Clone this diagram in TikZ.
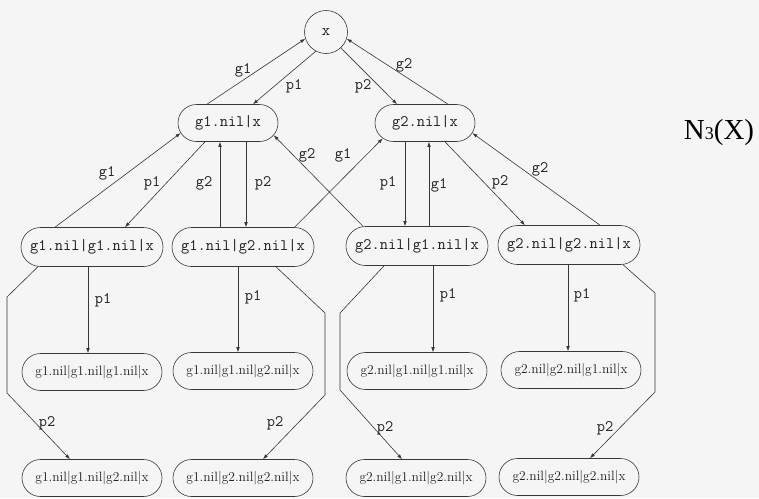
\documentclass[tikz,border=0pt]{standalone}
\usepackage{fontspec}
\newfontfamily\timesfont{Liberation Serif}
\usetikzlibrary{shapes.misc,arrows.meta}
\definecolor{bgcol}{RGB}{245,245,245}
\definecolor{ink}{RGB}{55,55,55}
\definecolor{txt}{RGB}{30,30,30}
\begin{document}
\begin{tikzpicture}[x=1pt,y=-1pt,
  ttfont/.style={font=\fontsize{16}{18}\selectfont\ttfamily},
  state/.style={rounded rectangle, draw=ink, line width=0.6pt, inner sep=0pt, text=txt},
  lvlone/.style={state, ttfont, minimum width=100pt, minimum height=37pt},
  lvltwo/.style={state, ttfont, minimum width=142pt, minimum height=39pt},
  leaf/.style={state, font=\fontsize{13.5}{15}\selectfont, minimum width=140pt, minimum height=37pt},
  root/.style={circle, draw=ink, line width=0.6pt, minimum size=43pt, inner sep=0pt, ttfont, text=txt},
  lbl/.style={ttfont, inner sep=0pt, text=txt},
  link/.style={draw=ink, line width=0.6pt, -{Latex[length=5pt,width=3.6pt]}},
]
\useasboundingbox[fill=bgcol] (0,0) rectangle (759,498);

% states
\node[root] (x) at (326,32) {x};

\node[lvlone] (a1) at (228,123) {g1.nil|x};
\node[lvlone] (a2) at (425,123) {g2.nil|x};

\node[lvltwo] (b11) at (92,247) {g1.nil|g1.nil|x};
\node[lvltwo] (b12) at (243,247) {g1.nil|g2.nil|x};
\node[lvltwo] (b21) at (417,246) {g2.nil|g1.nil|x};
\node[lvltwo] (b22) at (569,245) {g2.nil|g2.nil|x};

\node[leaf] (c111) at (92,372) {g1.nil|g1.nil|g1.nil|x};
\node[leaf] (c112) at (243,371) {g1.nil|g1.nil|g2.nil|x};
\node[leaf] (c211) at (417,371) {g2.nil|g1.nil|g1.nil|x};
\node[leaf] (c221) at (571,370) {g2.nil|g2.nil|g1.nil|x};

\node[leaf] (d112) at (92,478) {g1.nil|g1.nil|g2.nil|x};
\node[leaf] (d122) at (243,478) {g1.nil|g2.nil|g2.nil|x};
\node[leaf] (d212) at (416,478) {g2.nil|g1.nil|g2.nil|x};
\node[leaf] (d222) at (569,477) {g2.nil|g2.nil|g2.nil|x};

% bends of the p2 connectors
\coordinate (k1a) at (7,297);   \coordinate (k1b) at (7,393);
\coordinate (k2a) at (325,313); \coordinate (k2b) at (325,395);
\coordinate (k3a) at (340,313); \coordinate (k3b) at (340,390);
\coordinate (k4a) at (655,293); \coordinate (k4b) at (655,392);

% root <-> first level
\draw[link] ([xshift=-21pt]a1.north) -- (x.198);
\draw[link] (x.242) -- ([xshift=25pt]a1.north);
\draw[link] (x.313) -- ([xshift=-28pt]a2.north);
\draw[link] ([xshift=23pt]a2.north) -- (x.-18);

% first level <-> second level
\draw[link] ([xshift=-37pt]b11.north) -- (a1.192);
\draw[link] ([xshift=-23pt]a1.south) -- ([xshift=33pt]b11.north);
\draw[link] ([xshift=-23pt]b12.north) -- ([xshift=-23pt]b12.north |- a1.south);
\draw[link] ([xshift=18pt]a1.south) -- ([xshift=18pt]a1.south |- b12.north);
\draw[link] (b21.160) -- (a1.-15);
\draw[link] (b12.21) -- (a2.200);
\draw[link] ([xshift=-20pt]a2.south) -- ([xshift=-20pt]a2.south |- b21.north);
\draw[link] ([xshift=12pt]b21.north) -- ([xshift=12pt]b21.north |- a2.south);
\draw[link] ([xshift=20pt]a2.south) -- ([xshift=-44pt]b22.north);
\draw[link] ([xshift=31pt]b22.north) -- (a2.-12);

% second level -> third level
\draw[link] ([xshift=-4pt]b11.south) -- ([xshift=-4pt]b11.south |- c111.north);
\draw[link] ([xshift=-5pt]b12.south) -- ([xshift=-5pt]b12.south |- c112.north);
\draw[link] ([xshift=16pt]b21.south) -- ([xshift=16pt]b21.south |- c211.north);
\draw[link] ([xshift=-1pt]b22.south) -- ([xshift=-1pt]b22.south |- c221.north);

% second level -> fourth level
\draw[link] (b11.200) -- (k1a) -- (k1b) -- ([xshift=-22pt]d112.north);
\draw[link] (b12.-31) -- (k2a) -- (k2b) -- ([xshift=20pt]d122.north);
\draw[link] (b21.211) -- (k3a) -- (k3b) -- ([xshift=-14pt]d212.north);
\draw[link] (b22.-20) -- (k4a) -- (k4b) -- ([xshift=21pt]d222.north);

% connector labels
\node[lbl] (t1) at (243,70) {g1};
\node[lbl] (t2) at (294,86) {p1};
\node[lbl] (t3) at (363,86) {p2};
\node[lbl] (t4) at (404,65) {g2};

\node[lbl] (u1) at (107,173) {g1};
\node[lbl] (u2) at (152,183) {p1};
\node[lbl] (u3) at (204,183) {g2};
\node[lbl] (u4) at (263,183) {p2};
\node[lbl] (u5) at (307,155) {g2};
\node[lbl] (u6) at (343,155) {g1};
\node[lbl] (u7) at (388,183) {p1};
\node[lbl] (u8) at (439,185) {g1};
\node[lbl] (u9) at (500,182) {p2};
\node[lbl] (u10) at (540,169) {g2};

\node[lbl] (v1) at (103,300) {p1};
\node[lbl] (v2) at (253,297) {p1};
\node[lbl] (v3) at (448,295) {p1};
\node[lbl] (v4) at (582,295) {p1};

\node[lbl] (w1) at (47,423) {p2};
\node[lbl] (w2) at (275,423) {p2};
\node[lbl] (w3) at (385,428) {p2};
\node[lbl] (w4) at (605,428) {p2};

% title
\node[font=\timesfont\fontsize{29}{30}\selectfont, inner sep=0pt, text=black] (title) at (719,133)
  {N{\fontsize{18}{18}\selectfont 3}(X)};
\end{tikzpicture}
\end{document}
